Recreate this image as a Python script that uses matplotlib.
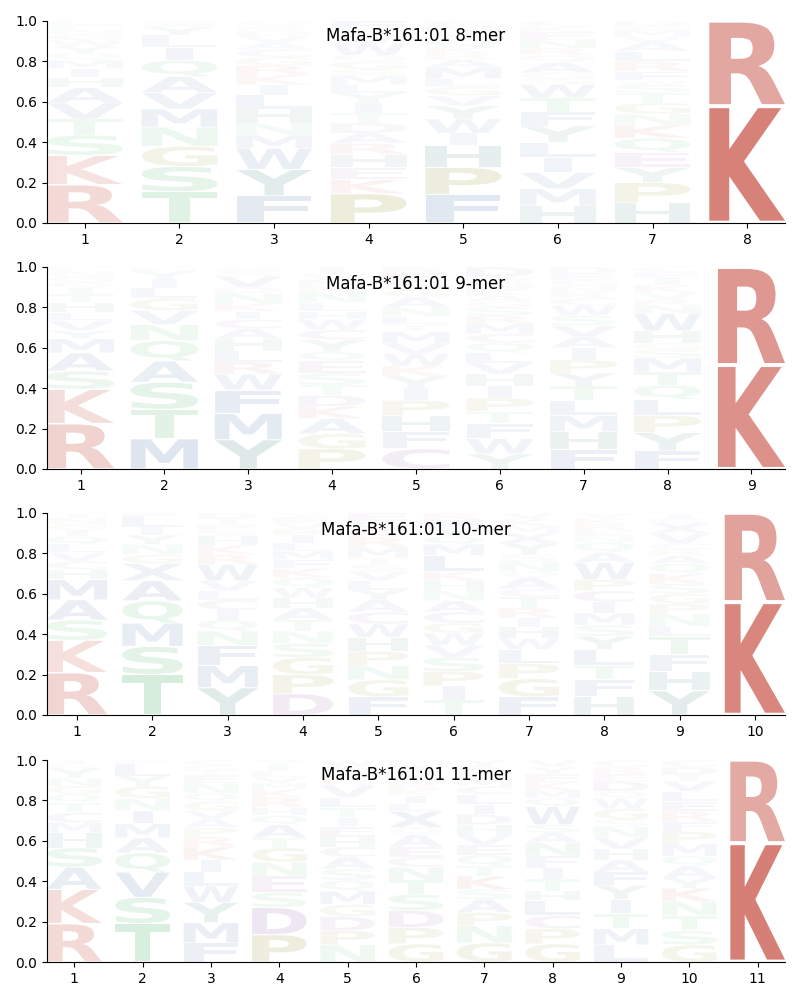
import matplotlib
matplotlib.use("Agg")
import matplotlib.pyplot as plt
from matplotlib.font_manager import FontProperties
from matplotlib.patches import PathPatch
from matplotlib.textpath import TextPath
from matplotlib.transforms import Affine2D

TITLE_PREFIX = "Mafa-B*161:01"
LENGTHS = [8, 9, 10, 11]

# Letters in each position, listed from the bottom of the stack to the top
LETTERS_8 = ["RKSTVAHIMQYWGNFL", "TSGNMVAQILYEC", "FYWMNHLIKRGCAVDSQ", "PKEHRADTIYLMSGQWVNF",
             "FPHIWYVGLMARKQSNE", "HMVILYFTWSGAQRNEKC", "HPYEQKNGTSWFRLAVMCD", "KR"]
HEIGHTS_8 = [[.19, .145, .10, .08, .08, .075, .05, .045, .04, .035, .035, .03, .03, .025, .02, .02],
             [.155, .125, .10, .095, .09, .08, .08, .08, .065, .06, .04, .015, .015],
             [.135, .13, .105, .065, .06, .07, .07, .05, .05, .045, .04, .04, .033, .032, .025, .025, .025],
             [.145, .07, .06, .065, .055, .05, .05, .05, .05, .05, .04, .045, .03, .04, .03, .06, .04, .03, .04],
             [.14, .135, .11, .06, .07, .065, .05, .045, .04, .055, .04, .03, .03, .04, .03, .03, .03],
             [.085, .085, .08, .075, .075, .08, .07, .07, .065, .03, .03, .05, .035, .035, .04, .04, .03, .025],
             [.10, .10, .075, .075, .07, .065, .055, .055, .05, .04, .02, .045, .05, .05, .045, .03, .03, .02, .025],
             [.58, .42]]

LETTERS_9 = ["RKSAMYVLHTIQGNF", "MTSAQNVGLIYE", "YMFWRLHACIKNDVSG", "PGAKDTSEQYCWHLNRMVI",
             "CFHPIYKWVMTLNAGSER", "YWFTPIHVLQCMRSGAKNED", "FHMLTYPIAVSWCRNGED",
             "FYPLQTMSGHWNRVKIEC", "KR"]
HEIGHTS_9 = [[.225, .17, .09, .09, .07, .04, .05, .04, .05, .04, .03, .03, .03, .025, .02],
             [.15, .145, .135, .105, .10, .08, .07, .06, .05, .045, .04, .02],
             [.145, .13, .115, .08, .06, .055, .06, .05, .045, .04, .04, .05, .03, .055, .025, .02],
             [.10, .075, .075, .06, .055, .05, .06, .06, .045, .06, .05, .05, .04, .045, .05, .03, .03, .03, .035],
             [.10, .085, .08, .075, .06, .06, .05, .06, .05, .06, .035, .04, .045, .05, .04, .04, .04, .03],
             [.075, .075, .075, .06, .065, .06, .06, .055, .05, .05, .045, .05, .04, .04, .03, .03, .03, .03, .03, .05],
             [.095, .09, .08, .075, .07, .065, .065, .06, .055, .055, .05, .05, .035, .03, .03, .03, .03, .035],
             [.09, .09, .085, .08, .07, .065, .07, .04, .035, .06, .085, .04, .03, .035, .035, .035, .03, .025],
             [.515, .485]]

LETTERS_10 = ["RKSAMHCVLQIGNT", "TSMQAXGNYILE", "YMFNQICLVWRKHSPTD", "DPGSNTAHWQKFMLIRVEY",
              "FGNPHWCAYLVSTMRKQE", "TIPSVWGCANHKLMQYFR", "FGPLWHIRTCAQNSYXMKV",
              "HFTLYSMICPWAQNERKV", "YHFTLNPGSKQARCVXEIM", "KR"]
HEIGHTS_10 = [[.21, .16, .10, .10, .10, .05, .04, .045, .04, .04, .03, .03, .03, .025],
              [.20, .14, .115, .11, .10, .085, .045, .05, .045, .04, .055, .015],
              [.135, .11, .10, .07, .055, .05, .05, .045, .05, .08, .05, .045, .045, .03, .03, .03, .025],
              [.105, .095, .085, .07, .06, .055, .06, .05, .05, .05, .045, .045, .04, .04, .04, .03, .03, .03, .02],
              [.09, .085, .07, .07, .07, .065, .06, .06, .05, .045, .045, .035, .035, .05, .05, .04, .04, .04],
              [.075, .07, .07, .07, .06, .06, .05, .055, .055, .05, .05, .045, .08, .055, .04, .04, .04, .035],
              [.09, .09, .075, .07, .055, .055, .045, .05, .055, .04, .055, .03, .05, .035, .055, .05, .035, .035, .035],
              [.09, .085, .07, .08, .065, .055, .06, .055, .055, .055, .085, .05, .05, .03, .03, .03, .03, .025],
              [.12, .095, .085, .09, .05, .06, .05, .05, .05, .05, .05, .04, .03, .03, .05, .05, .02, .025, .025],
              [.56, .44]]

LETTERS_11 = ["RKASHMCTQGNYLI", "TSVQAMINGYLE", "FMYWLIKRPAVGQNETSC", "PDSENGTAQHRKMVLIY",
              "NPDGMQSACHEITLVRKFW", "GPDSTNCEAQXLIKRMVYH", "GNPASKTQEVHDILCMFRY",
              "GPCLHTIFNASWQMKEYV", "LMTIYFAHVNSGWQDERC", "GSTNKYAQMPFRELVIDC", "KR"]
HEIGHTS_11 = [[.19, .17, .11, .095, .075, .05, .05, .05, .04, .04, .04, .05, .02, .02],
              [.19, .13, .125, .095, .075, .07, .065, .06, .06, .05, .06, .02],
              [.095, .10, .10, .08, .07, .06, .065, .05, .045, .043, .042, .045, .04, .05, .04, .025, .025, .025],
              [.135, .135, .075, .08, .07, .07, .05, .065, .045, .04, .05, .04, .03, .03, .03, .03, .025],
              [.085, .07, .07, .06, .065, .055, .055, .06, .05, .05, .05, .045, .05, .05, .06, .03, .035, .03, .03],
              [.09, .08, .085, .08, .07, .065, .05, .05, .06, .035, .08, .04, .04, .03, .03, .03, .03, .03, .025],
              [.095, .085, .065, .065, .05, .065, .05, .055, .05, .05, .05, .05, .05, .05, .04, .035, .035, .03, .03],
              [.09, .075, .065, .075, .045, .06, .055, .06, .065, .05, .04, .09, .04, .04, .04, .04, .035, .035],
              [.085, .08, .075, .07, .07, .065, .06, .055, .055, .055, .035, .055, .05, .035, .05, .035, .035, .035],
              [.085, .07, .075, .07, .065, .05, .06, .05, .06, .06, .05, .05, .05, .05, .05, .03, .04, .035],
              [.59, .41]]

ALL_LETTERS = [LETTERS_8, LETTERS_9, LETTERS_10, LETTERS_11]
ALL_HEIGHTS = [HEIGHTS_8, HEIGHTS_9, HEIGHTS_10, HEIGHTS_11]

RED, BLUE, GREEN = "#c0392b", "#29549a", "#2ea84c"
OLIVE, PURPLE, TEAL = "#7f7f00", "#7d3c98", "#16645a"
COLORS = {**dict.fromkeys("KR", RED), **dict.fromkeys("AFILMVWX", BLUE),
          **dict.fromkeys("NQST", GREEN), **dict.fromkeys("GP", OLIVE),
          **dict.fromkeys("CDE", PURPLE), **dict.fromkeys("HY", TEAL)}

FP = FontProperties(family="DejaVu Sans", weight="bold")
GLYPH_WIDTH = 0.8
VPAD = 0.04
E_WIDTH = TextPath((0, 0), "E", size=1, prop=FP).get_extents().width


def draw_glyph(ax, char, x, bottom, height):
    path = TextPath((0, 0), char, size=1, prop=FP)
    box = path.get_extents()
    sx = min(GLYPH_WIDTH / box.width, GLYPH_WIDTH / E_WIDTH)
    char_w = sx * box.width
    y0 = bottom + height * VPAD / 2
    h = height * (1 - VPAD)
    tr = (Affine2D().translate(-box.x0, -box.y0).scale(sx, h / box.height)
          .translate(x - char_w / 2, y0))
    ax.add_patch(PathPatch(path, transform=tr + ax.transData, facecolor=COLORS[char],
                           edgecolor="none", alpha=min(1.0, 1.15 * height ** 1.1)))


fig = plt.figure(figsize=(8, 10), dpi=100)
tops_px = [21, 267, 513, 760]
title_y = [0.925, 0.915, 0.915, 0.925]
for n, top, ty, letters, heights in zip(LENGTHS, tops_px, title_y, ALL_LETTERS, ALL_HEIGHTS):
    ax = fig.add_axes([47 / 800, 1 - (top + 202) / 1000, 738 / 800, 202 / 1000])
    for i, (stack, hs) in enumerate(zip(letters, heights), start=1):
        assert len(stack) == len(hs), (n, i, len(stack), len(hs))
        bottom = 0.0
        for c, h in zip(stack, hs):
            draw_glyph(ax, c, i, bottom, h)
            bottom += h
    ax.set_xlim(0.6, n + 0.4)
    ax.set_ylim(0, 1)
    ax.set_xticks(range(1, n + 1))
    ax.set_yticks([0, .2, .4, .6, .8, 1.0])
    ax.spines[["top", "right"]].set_visible(False)
    ax.text(0.5, ty, f"{TITLE_PREFIX} {n}-mer", transform=ax.transAxes,
            ha="center", va="center", fontsize=12)

fig.savefig("out.png", dpi=100)
